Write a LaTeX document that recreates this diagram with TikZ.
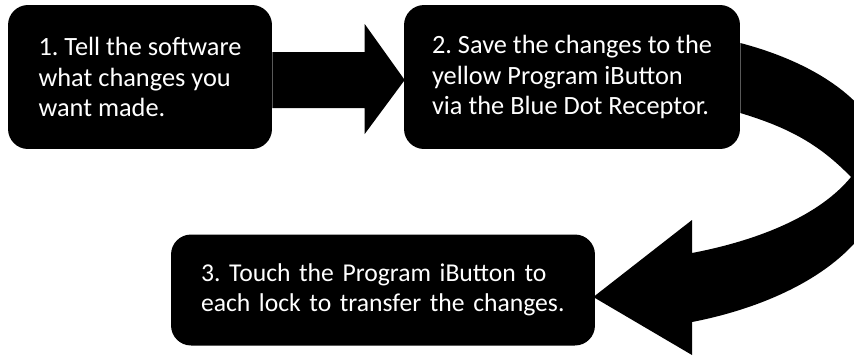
\documentclass[tikz,border=0pt]{standalone}
\usepackage{fontspec}
\setmainfont{Carlito}
\frenchspacing
\usetikzlibrary{calc}
\tikzset{
  stepbox/.style={fill=black, text=white, rounded corners=0.4cm, align=left,
    inner xsep=0.45cm, font=\fontsize{15}{17.4}\selectfont},
  blockarrow/.style={fill=black}
}
\begin{document}
\begin{tikzpicture}[x=0.02cm,y=-0.02cm]
  \useasboundingbox (0,0) rectangle (854,356);

  \node[stepbox, minimum width=5.28cm, minimum height=2.88cm] (one) at (140,77) {1. Tell the software\\what changes you\\want made.};
  \node[stepbox, minimum width=6.72cm, minimum height=2.88cm] (two) at (572,77) {2. Save the changes to the\\yellow Program iButton\\via the Blue Dot Receptor.};
  \node[stepbox, text width=7.28cm, inner xsep=0.6cm, minimum height=2.22cm,
    font=\fontsize{14.6}{17.4}\selectfont] (three) at (383,290) {3. Touch the Program iButton to\\each lock to transfer the changes.};

  % straight arrow 1 -> 2
  \fill[blockarrow] ($(one.east)+(0,-25)$) -- ($(two.west)+(-39,-25)$) -- ($(two.west)+(-39,-53)$)
    -- ($(two.west)+(1,3)$) -- ($(two.west)+(-39,57)$) -- ($(two.west)+(-39,31)$) -- ($(one.east)+(0,31)$) -- cycle;

  % curved arrow 2 -> 3
  \fill[blockarrow] ($(two.east)+(0,-34)$) .. controls (850,72) and (898,133) .. (885,185)
    .. controls (870,260) and (780,305) .. (692,322) -- (692,355) -- ($(three.east)+(-2,7)$)
    -- (692,220) -- (692,253) .. controls (760,240) and (820,215) .. (851,177)
    .. controls (820,145) and (790,128) .. ($(two.east)+(0,36)$) -- cycle;
\end{tikzpicture}
\end{document}
